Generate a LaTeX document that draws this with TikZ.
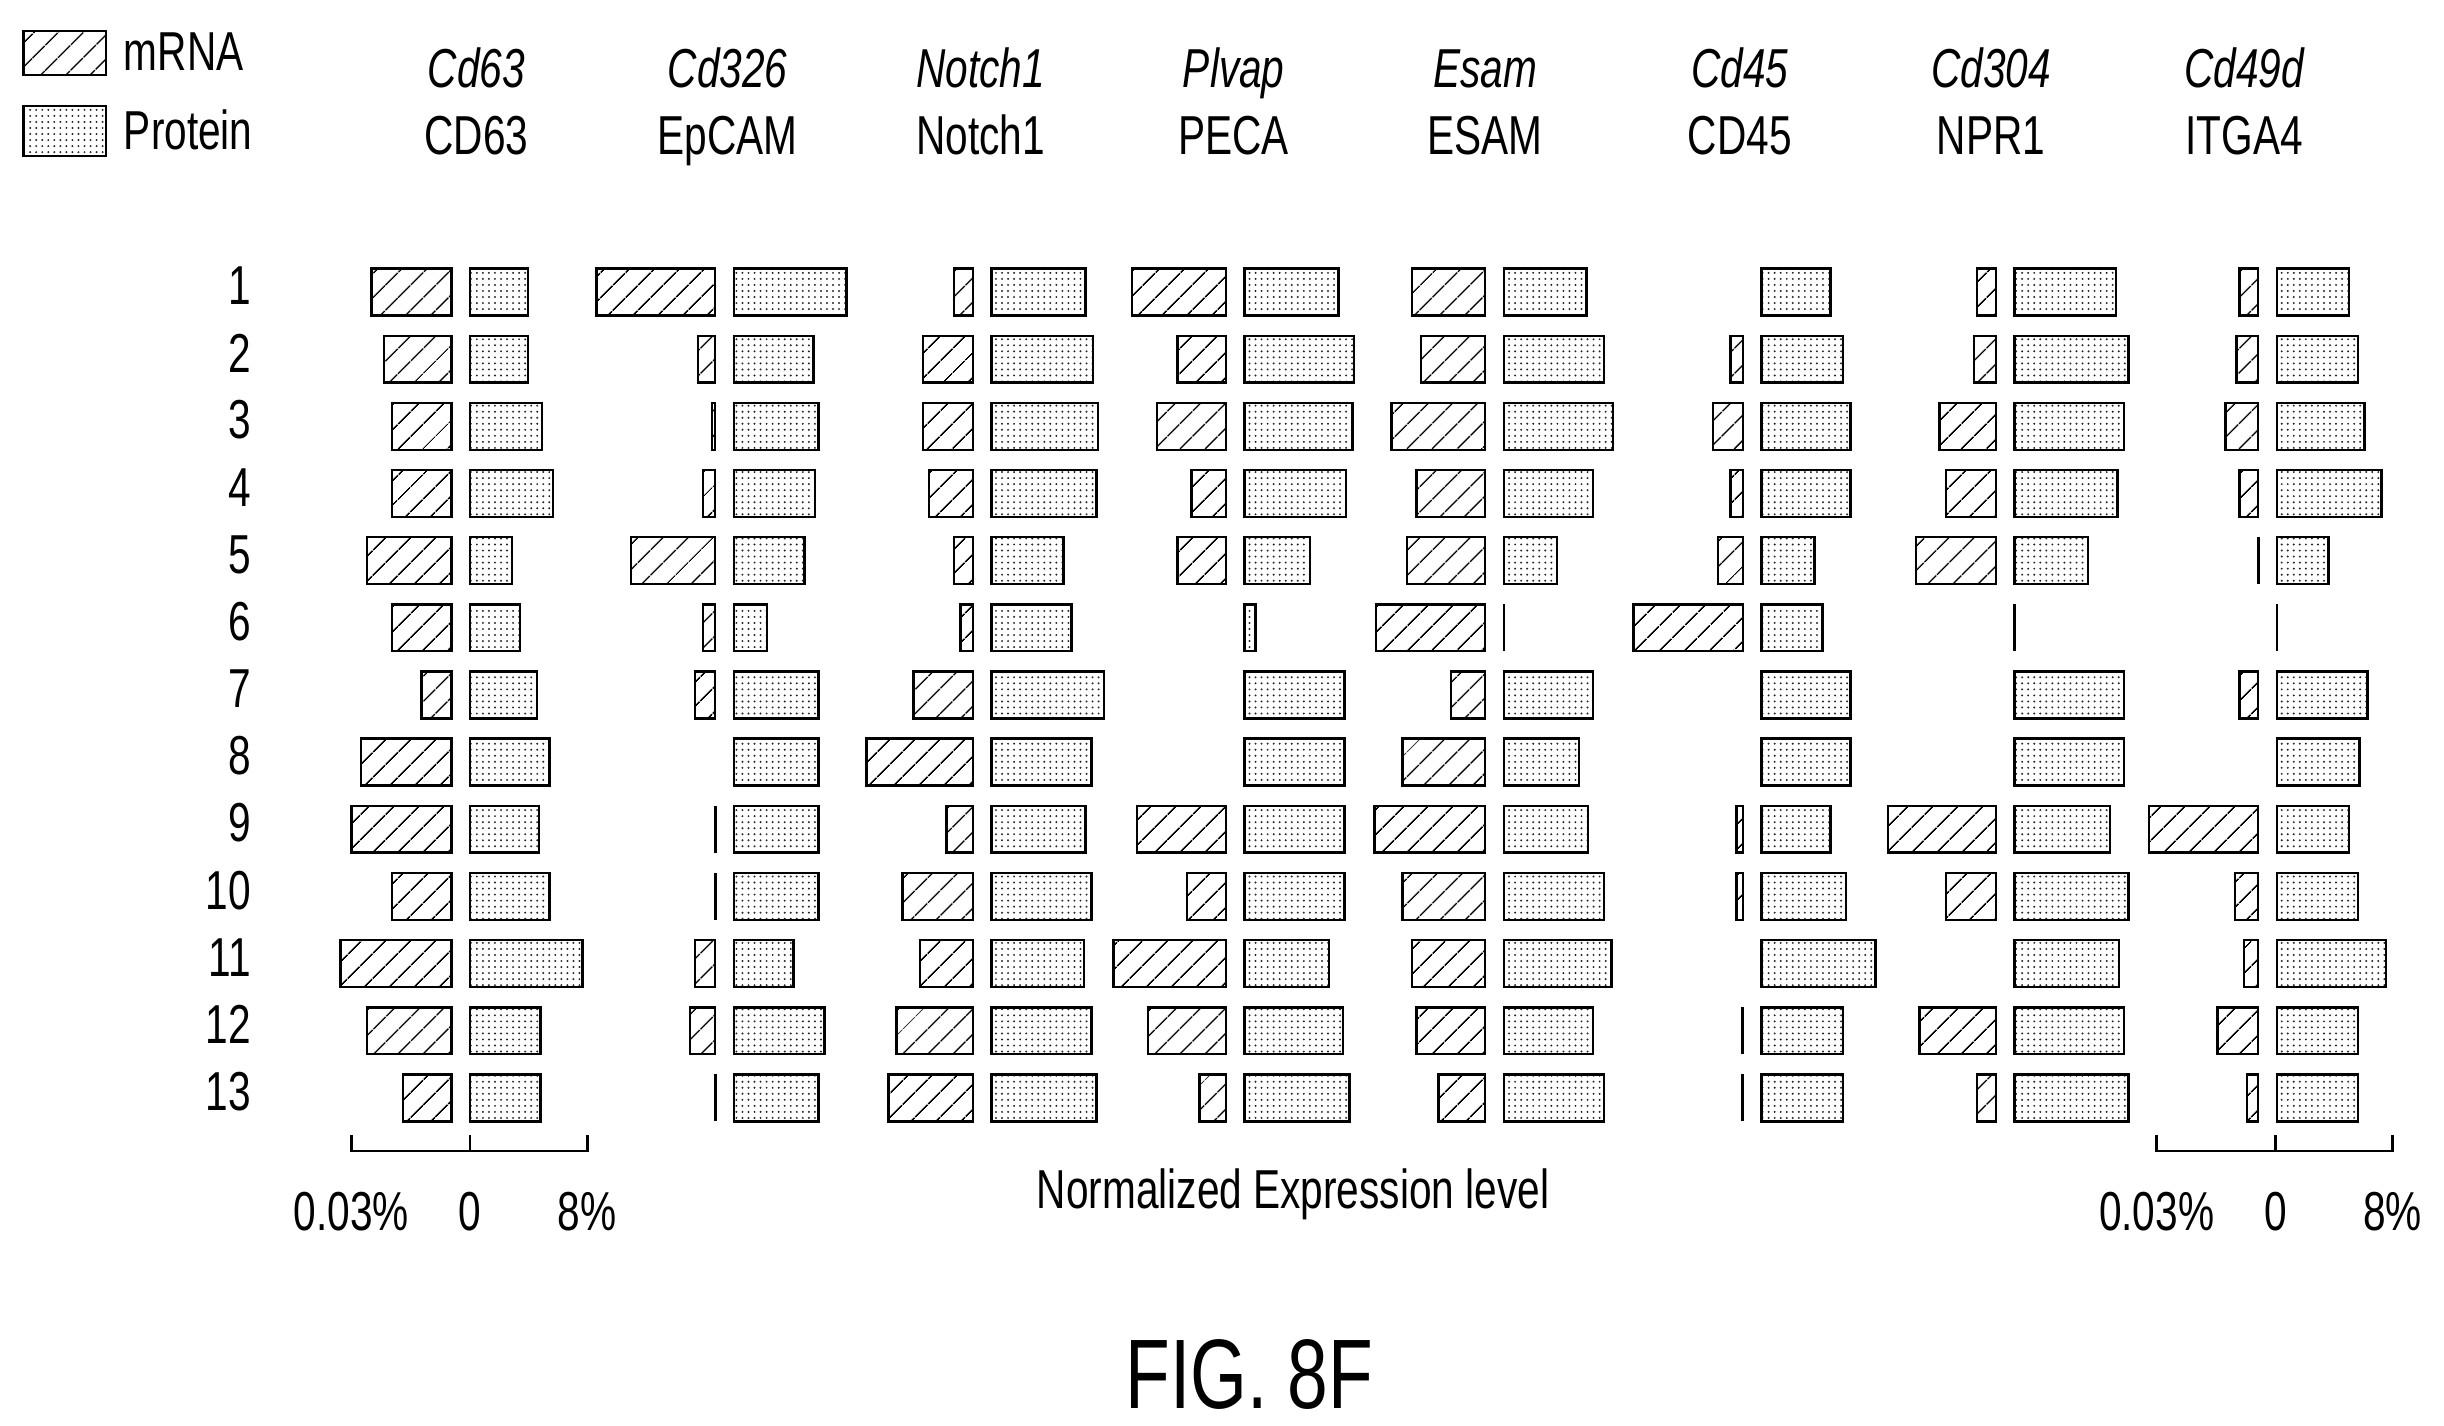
\documentclass[tikz,border=0pt]{standalone}
\usepackage{fontspec}
\setmainfont{Liberation Sans}[FakeStretch=0.74]
\usetikzlibrary{patterns,patterns.meta}
\tikzset{
 mr/.style={draw,line width=0.9pt,pattern={Lines[angle=45,distance=6.5pt,line width=0.6pt]}},
 pr/.style={draw,line width=0.9pt,pattern={Dots[distance=2.2pt,radius=0.4pt]},pattern color=black!85},
 ln/.style={line width=1pt},
 lab/.style={font=\fontsize{20}{22}\selectfont,inner sep=0pt}
}
\newcommand\gene[2]{%
 \foreach \ml/\pp [count=\r] in {#2} {
  \pgfmathsetmacro\yy{187+(\r-1)*43}
  \ifnum\ml=0 \else\ifnum\ml=1 \draw[ln] (#1-12,\yy-15)--(#1-12,\yy+15);
  \else \draw[mr] (\ml,\yy-15) rectangle (#1-12,\yy+15);\fi\fi
  \ifnum\pp=0 \else\ifnum\pp=1 \draw[ln] (#1,\yy-15)--(#1,\yy+15);
  \else \draw[pr] (#1,\yy-15) rectangle (\pp,\yy+15);\fi\fi
 }}
\begin{document}
\begin{tikzpicture}[x=0.02cm,y=-0.02cm]
\useasboundingbox[fill=white] (0,0) rectangle (1565,913);
% legend
\draw[mr] (15,20) rectangle (68,48); \node[lab,anchor=west] (lm) at (79,33) {mRNA};
\draw[pr] (15,68) rectangle (68,100); \node[lab,anchor=west] (lp) at (79,83) {Protein};
% headers
\foreach \x/\a/\b [count=\i] in {305/Cd63/CD63,466/Cd326/EpCAM,628/Notch1/Notch1,790/Plvap/PECA,951/Esam/ESAM,1114/Cd45/CD45,1275/Cd304/NPR1,1437/Cd49d/ITGA4}{
 \node[lab,anchor=base] (g\i) at (\x,56) {\itshape\a};
 \node[lab,anchor=base] (p\i) at (\x,99) {\b};}
\foreach \r in {1,...,13}{\pgfmathsetmacro\ry{187+(\r-1)*43-4}\node[lab,anchor=east] (r\r) at (161,\ry) {\r};}
\gene{301}{238/338,246/338,251/347,251/354,235/328,251/333,270/344,231/352,225/345,251/352,218/373,235/346,258/346}
\gene{470}{382/542,447/521,456/524,450/522,404/515,450/491,445/524,0/524,1/524,1/524,445/508,442/528,1/524}
\gene{635}{611/695,591/700,591/703,595/702,611/681,615/686,585/707,555/699,606/695,578/699,589/694,574/699,569/702}
\gene{797}{725/857,754/867,741/866,763/862,754/839,0/804,0/861,0/861,728/861,760/861,713/851,735/860,768/864}
\gene{963}{904/1016,910/1027,891/1033,907/1020,901/997,881/1,929/1020,898/1011,880/1017,898/1027,904/1032,907/1020,921/1027}
\gene{1128}{0/1172,1108/1180,1097/1185,1108/1185,1100/1162,1046/1167,0/1185,0/1185,1112/1172,1112/1182,0/1201,1/1180,1/1180}
\gene{1290}{1266/1355,1264/1363,1242/1360,1246/1356,1227/1337,0/1,0/1360,0/1360,1209/1351,1246/1363,0/1357,1229/1360,1266/1363}
\gene{1458}{1434/1504,1432/1510,1425/1514,1434/1525,1/1491,0/1,1434/1516,0/1511,1376/1504,1431/1510,1437/1528,1420/1510,1439/1510}
% axes
\foreach \o in {0,1156}{
 \draw[line width=1pt] (225+\o,727)--(225+\o,737)--(376+\o,737)--(376+\o,727) (301+\o,727)--(301+\o,737);
 \node[lab] at (225+\o,776) {0.03\%};
 \node[lab] at (301+\o,776) {0};
 \node[lab] at (376+\o,776) {8\%};}
\node[lab] (xl) at (828,765) {Normalized Expression level};
\node[lab,font=\fontsize{36}{40}\selectfont] (fig) at (800,880) {FIG. 8F};
\end{tikzpicture}
\end{document}
